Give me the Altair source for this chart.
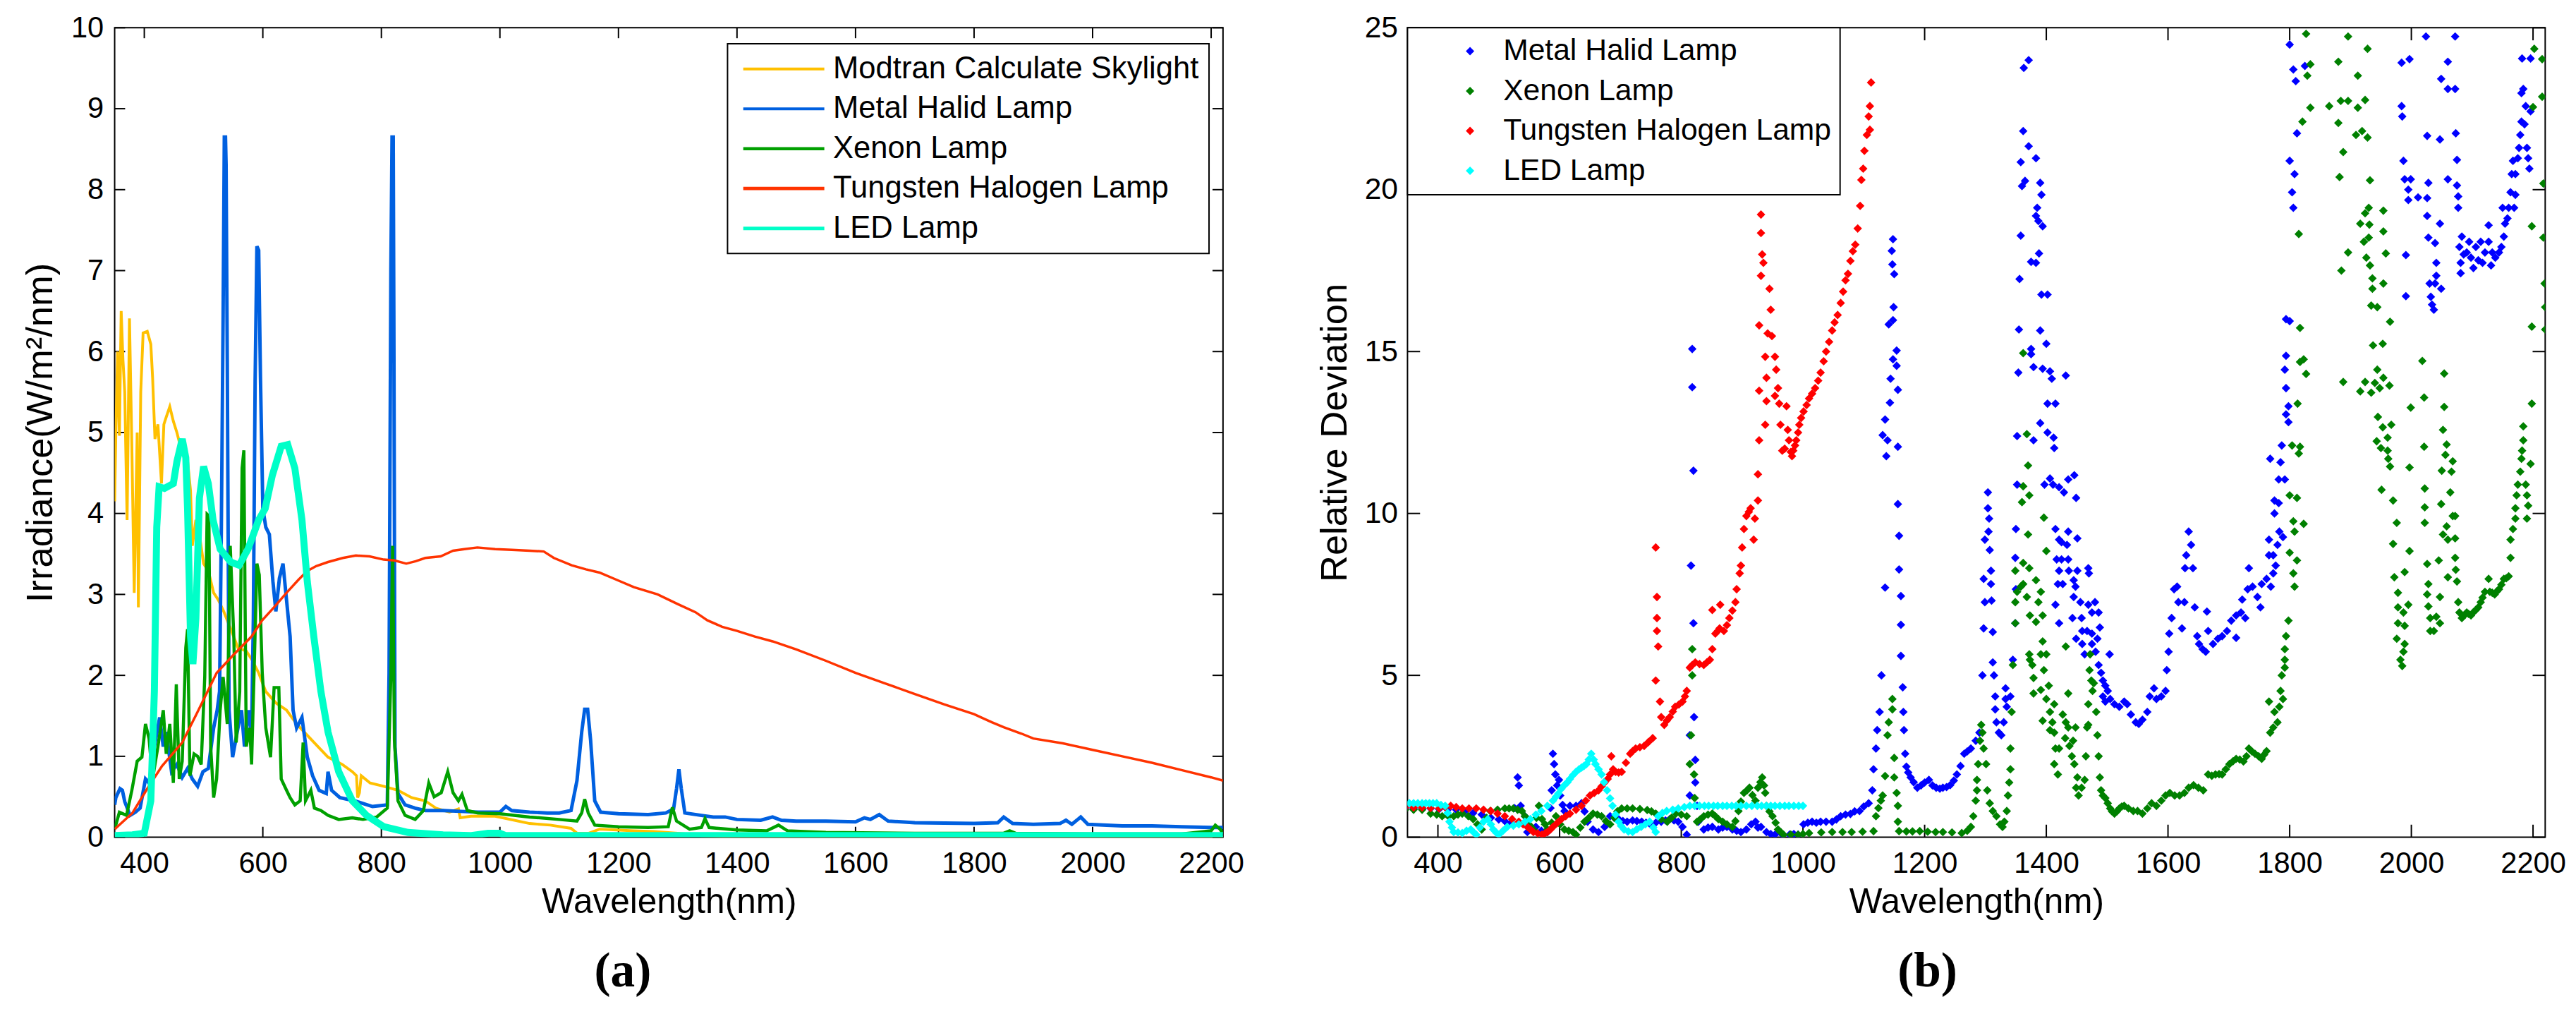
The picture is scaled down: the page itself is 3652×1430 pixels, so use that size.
import altair as alt
import pandas as pd

# ---------------- tick values ----------------
NM_TICKS = [400, 600, 800, 1000, 1200, 1400, 1600, 1800, 2000, 2200]
IRR_TICKS = [0, 1, 2, 3, 4, 5, 6, 7, 8, 9, 10]
DEV_TICKS = [0, 5, 10, 15, 20, 25]

# ---------------- panel (a): irradiance spectra ----------------
NAMES_A = ["Modtran Calculate Skylight", "Metal Halid Lamp", "Xenon Lamp",
           "Tungsten Halogen Lamp", "LED Lamp"]
COLORS_A = ["#FFC000", "#0060E0", "#00A000", "#FF3300", "#00FFC8"]
WIDTHS_A = [4, 5, 4.5, 3.5, 10]

MODTRAN = [(350,4.15),(352,5.0),(355,6.0),(358,4.96),(361,6.5),(364,5.9),(367,5.5),(371,3.92),(375,6.41),
           (379,4.83),(383,3.02),(388,5.0),(390,2.84),(394,5.5),(398,6.23),(405,6.25),(411,6.09),(414,5.68),
           (418,4.92),(423,5.1),(429,4.37),(433,5.1),(437,5.19),(443,5.32),(449,5.14),(455,5.0),(461,4.83),
           (467,4.74),(473,4.65),(478,4.28),(481,3.6),(487,3.92),(493,3.74),(500,3.38),(508,3.29),(517,3.02),
           (525,2.93),(534,2.79),(546,2.57),(558,2.34),(572,2.3),(581,2.2),(593,2.03),(605,1.8),(622,1.66),
           (640,1.57),(657,1.4),(675,1.26),(693,1.12),(710,0.99),(734,0.9),(751,0.81),(758,0.76),(760,0.49),
           (763,0.55),(766,0.76),(781,0.67),(804,0.63),(828,0.58),(851,0.49),(874,0.45),(892,0.36),(915,0.31),
           (930,0.35),(933,0.24),(951,0.26),(992,0.26),(1050,0.17),(1085,0.15),(1120,0.11),(1130,0.05),
           (1150,0.05),(1168,0.1),(1226,0.08),(1260,0.07),(1300,0.05),(1340,0.02),(1400,0.01),(1600,0.01),
           (1800,0.01),(2000,0.0),(2220,0.0)]

METAL_A = [(350,0.40),(352,0.49),(359,0.6),(363,0.58),(367,0.44),(376,0.27),(385,0.31),(393,0.36),(402,0.72),
           (408,0.67),(417,1.12),(426,1.48),(432,1.12),(437,1.3),(446,0.81),(455,0.9),(464,0.74),(473,0.85),
           (481,0.72),(490,0.63),(499,0.81),(508,0.85),(517,1.35),(523,1.57),(527,1.8),(530,3.83),(533,6.45),
           (535,8.65),(537,8.65),(538,8.3),(540,5.87),(543,1.57),(549,0.99),(558,1.35),(564,1.57),(569,1.12),
           (576,1.57),(581,1.26),(584,2.7),(587,5.64),(590,7.3),(593,7.25),(596,5.68),(600,4.06),(605,3.83),
           (611,3.74),(617,3.16),(622,2.79),(628,3.2),(634,3.38),(640,2.93),(646,2.48),(651,1.57),(657,1.35),
           (666,1.48),(675,0.99),(684,0.76),(695,0.58),(707,0.54),(710,0.81),(716,0.58),(730,0.49),(755,0.45),
           (785,0.38),(810,0.40),(813,2.03),(816,7.0),(818,8.65),(820,8.65),(821,6.5),(823,1.12),(828,0.54),
           (840,0.40),(857,0.36),(874,0.33),(904,0.33),(933,0.32),(963,0.31),(1000,0.31),(1010,0.38),
           (1020,0.33),(1050,0.31),(1080,0.3),(1100,0.3),(1120,0.33),(1130,0.7),(1138,1.3),(1143,1.58),
           (1148,1.58),(1153,1.2),(1160,0.45),(1170,0.31),(1200,0.29),(1250,0.28),(1280,0.3),(1293,0.35),
           (1298,0.6),(1302,0.84),(1306,0.6),(1312,0.3),(1340,0.27),(1360,0.25),(1380,0.25),(1400,0.22),
           (1440,0.21),(1460,0.25),(1475,0.21),(1500,0.2),(1550,0.2),(1600,0.19),(1615,0.24),(1625,0.22),
           (1640,0.28),(1655,0.2),(1700,0.18),(1800,0.17),(1840,0.18),(1850,0.25),(1865,0.17),(1900,0.16),
           (1945,0.17),(1955,0.21),(1965,0.16),(1980,0.25),(1992,0.16),(2050,0.14),(2100,0.14),(2150,0.13),
           (2200,0.12),(2220,0.12)]

XENON_A = [(350,0.1),(358,0.31),(370,0.27),(379,0.58),(388,0.94),(396,0.99),(402,1.4),(408,1.22),(414,0.72),
           (423,1.12),(432,1.57),(437,1.03),(443,1.4),(449,0.67),(454,1.89),(459,0.72),(464,0.94),(470,2.34),
           (473,2.57),(477,0.76),(484,1.03),(490,1.0),(496,0.9),(502,1.98),(506,3.99),(509,3.97),(512,1.12),
           (517,0.49),(522,0.72),(528,1.57),(533,1.98),(540,1.4),(545,3.6),(551,2.48),(555,1.17),(561,1.8),
           (565,4.56),(568,4.78),(572,1.12),(578,1.35),(581,0.9),(586,2.25),(590,3.38),(594,3.24),(599,2.03),
           (605,1.35),(613,0.99),(619,1.85),(627,1.85),(631,0.72),(640,0.58),(646,0.49),(654,0.40),(663,0.45),
           (668,1.17),(672,0.45),(681,0.58),(687,0.36),(698,0.33),(710,0.27),(728,0.22),(751,0.24),(769,0.22),
           (792,0.25),(810,0.36),(816,2.0),(819,3.6),(822,1.2),(828,0.45),(840,0.27),(857,0.22),(871,0.33),
           (880,0.67),(889,0.5),(901,0.55),(912,0.81),(921,0.55),(930,0.45),(936,0.53),(945,0.33),(963,0.3),
           (1000,0.29),(1050,0.25),(1100,0.22),(1130,0.2),(1138,0.3),(1143,0.47),(1149,0.3),(1160,0.15),
           (1200,0.13),(1250,0.12),(1284,0.13),(1291,0.37),(1298,0.2),(1320,0.1),(1340,0.12),(1346,0.23),
           (1353,0.12),(1400,0.09),(1450,0.08),(1470,0.15),(1485,0.08),(1550,0.06),(1700,0.05),(1850,0.05),
           (1860,0.08),(1870,0.05),(2000,0.04),(2150,0.04),(2200,0.08),(2207,0.15),(2215,0.1),(2220,0.05)]

TUNGSTEN_A = [(350,0.1),(380,0.3),(405,0.6),(430,0.88),(464,1.17),(490,1.55),(522,2.03),(550,2.25),(581,2.48),
              (599,2.68),(620,2.85),(640,3.02),(660,3.18),(675,3.29),(690,3.35),(710,3.4),(735,3.45),(757,3.48),
              (780,3.47),(804,3.43),(822,3.42),(842,3.38),(858,3.41),(874,3.45),(900,3.47),(921,3.54),(940,3.56),
              (962,3.58),(992,3.56),(1020,3.55),(1050,3.54),(1074,3.53),(1091,3.45),(1121,3.36),(1145,3.31),
              (1168,3.27),(1197,3.18),(1226,3.09),(1266,3.0),(1300,2.88),(1330,2.78),(1350,2.68),(1375,2.6),
              (1400,2.55),(1430,2.48),(1460,2.42),(1500,2.32),(1550,2.18),(1600,2.03),(1650,1.9),(1700,1.77),
              (1750,1.64),(1800,1.52),(1830,1.42),(1850,1.36),(1880,1.28),(1900,1.22),(1950,1.16),(2000,1.08),
              (2050,1.0),(2100,0.92),(2150,0.83),(2200,0.74),(2220,0.7)]

LED_A = [(350,0.02),(380,0.03),(400,0.05),(411,0.45),(417,1.8),(421,3.83),(425,4.33),(434,4.31),(449,4.37),
         (455,4.64),(464,4.92),(470,4.69),(473,4.06),(478,2.48),(482,2.14),(487,2.7),(493,4.19),(500,4.58),
         (508,4.37),(516,3.92),(528,3.56),(546,3.40),(560,3.36),(575,3.56),(593,3.92),(604,4.06),(616,4.47),
         (631,4.83),(642,4.85),(654,4.56),(666,3.92),(675,3.16),(686,2.48),(698,1.80),(710,1.3),(728,0.81),
         (751,0.45),(775,0.27),(804,0.13),(845,0.06),(904,0.03),(950,0.02),(980,0.05),(1000,0.05),(1010,0.02),
         (1200,0.02),(1500,0.02),(2220,0.02)]

SERIES_A = [MODTRAN, METAL_A, XENON_A, TUNGSTEN_A, LED_A]

# ---------------- panel (b): relative deviation ----------------
NAMES_B = ["Metal Halid Lamp", "Xenon Lamp", "Tungsten Halogen Lamp", "LED Lamp"]
COLORS_B = ["#0000FF", "#008000", "#FF0000", "#00FFFF"]

METAL_B = [(346,0.89),(360,0.89),(374,0.89),(388,0.89),(402,0.87),(416,0.85),(430,0.85),(444,0.8),(458,0.75),
           (472,0.7),(487,0.6),(500,0.55),(510,0.5),(520,0.45),(526,0.9),(531,1.85),(533,1.6),(536,0.97),
           (543,0.65),(547,0.16),(552,0.3),(561,0.32),(570,0.2),(580,0.16),(585,0.9),(587,1.45),(589,2.58),
           (591,2.26),(593,1.94),(596,1.6),(599,1.77),(601,1.29),(605,1.0),(608,0.81),(617,0.97),(627,0.97),
           (636,1.05),(641,0.8),(646,0.48),(655,0.24),(664,0.16),(674,0.32),(683,0.65),(690,0.6),(697,0.56),
           (704,0.5),(711,0.48),(720,0.52),(727,0.5),(735,0.48),(742,0.45),(749,0.4),(758,0.45),(767,0.48),
           (774,0.52),(781,0.56),(788,0.52),(795,0.48),(802,0.32),(809,0.08),(814,1.29),(816,8.39),(818,15.08),
           (818,13.9),(820,11.32),(820,6.61),(821,3.71),(814,3.15),(823,2.39),(823,1.69),(826,0.97),(828,0.48),
           (837,0.24),(844,0.3),(851,0.32),(861,0.24),(868,0.3),(875,0.32),(884,0.24),(891,0.2),(898,0.16),
           (907,0.24),(915,0.4),(922,0.48),(926,0.3),(931,0.32),(940,0.16),(947,0.1),(954,0.08),(966,0.08),
           (978,0.08),(985,0.1),(992,0.08),(1001,0.4),(1008,0.45),(1015,0.48),(1022,0.45),(1029,0.48),
           (1038,0.48),(1048,0.48),(1055,0.55),(1062,0.65),(1070,0.7),(1078,0.72),(1085,0.8),(1093,0.81),
           (1100,0.95),(1108,1.05),(1114,1.45),(1116,2.1),(1120,2.74),(1122,3.31),(1126,3.87),(1129,5.0),
           (1135,7.71),(1131,12.42),(1135,12.9),(1137,11.77),(1139,12.26),(1143,13.42),(1144,14.16),(1141,15.84),
           (1148,15.97),(1149,16.37),(1148,14.76),(1154,15.03),(1154,14.56),(1156,13.82),(1150,17.39),
           (1147,17.69),(1146,18.11),(1148,18.47),(1156,12.06),(1156,10.29),(1158,9.31),(1158,8.27),(1161,7.45),
           (1161,6.56),(1161,5.6),(1164,4.63),(1165,3.87),(1166,3.31),(1168,2.58),(1170,2.18),(1173,2.0),
           (1177,1.85),(1182,1.7),(1188,1.53),(1194,1.6),(1200,1.69),(1207,1.77),(1213,1.6),(1219,1.53),
           (1225,1.5),(1230,1.53),(1236,1.55),(1242,1.61),(1248,1.75),(1253,1.94),(1259,2.2),(1265,2.58),
           (1270,2.65),(1276,2.74),(1284,2.98),(1290,3.23),(1295,5.0),(1297,6.45),(1299,7.26),(1297,7.98),
           (1299,9.19),(1304,10.65),(1304,10.16),(1306,9.84),(1305,9.44),(1307,8.87),(1309,8.23),(1309,7.82),
           (1310,7.31),(1312,6.34),(1312,5.4),(1314,5.0),(1316,4.35),(1316,3.95),(1318,3.55),(1322,3.23),
           (1326,3.15),(1330,3.55),(1333,4.6),(1333,4.27),(1335,4.03),(1341,4.35),(1345,5.48),(1349,6.61),
           (1350,7.66),(1349,8.63),(1350,9.52),(1352,10.89),(1352,12.39),(1354,14.35),(1355,15.68),(1356,17.24),
           (1358,18.58),(1360,20.11),(1358,20.85),(1362,21.81),(1363,23.76),(1371,24.0),(1365,20.27),
           (1371,21.34),(1383,20.97),(1390,20.21),(1392,19.84),(1385,19.44),(1383,19.19),(1387,19.03),
           (1394,18.87),(1388,18.03),(1375,17.77),(1383,17.74),(1392,16.76),(1402,16.76),(1390,15.65),
           (1400,15.24),(1375,15.08),(1375,14.92),(1379,14.52),(1394,14.47),(1406,14.39),(1409,14.16),
           (1402,13.39),(1415,13.39),(1390,12.79),(1379,12.26),(1402,12.5),(1412,12.34),(1413,12.02),
           (1432,14.26),(1397,10.89),(1406,11.08),(1411,10.89),(1421,10.81),(1429,10.65),(1436,11.05),
           (1446,11.18),(1449,10.48),(1415,9.52),(1421,9.19),(1425,9.11),(1434,9.03),(1436,9.44),(1451,9.23),
           (1417,8.58),(1425,8.58),(1436,8.58),(1421,8.23),(1437,8.23),(1451,8.23),(1419,7.82),(1427,7.82),
           (1445,7.94),(1448,7.74),(1469,8.31),(1470,8.15),(1415,7.18),(1445,7.42),(1456,7.26),(1469,7.18),
           (1480,7.26),(1443,6.77),(1458,6.77),(1475,6.94),(1486,6.94),(1421,6.61),(1449,6.13),(1459,6.37),
           (1467,6.37),(1475,6.29),(1488,6.48),(1459,5.97),(1475,5.97),(1484,6.13),(1504,5.65),(1463,5.65),
           (1481,5.73),(1486,5.32),(1490,5.08),(1493,4.84),(1497,4.68),(1501,4.52),(1493,4.35),(1497,4.19),
           (1505,4.27),(1512,4.11),(1520,4.03),(1528,4.19),(1533,4.11),(1539,3.79),(1547,3.55),(1552,3.5),
           (1558,3.63),(1566,3.87),(1570,4.35),(1577,4.6),(1581,4.27),(1589,4.35),(1596,4.52),(1598,5.16),
           (1601,5.73),(1602,6.29),(1606,6.77),(1610,7.66),(1615,7.74),(1617,7.26),(1623,6.45),(1627,7.26),
           (1628,8.31),(1630,8.71),(1634,9.44),(1638,9.03),(1641,8.31),(1644,7.1),(1648,6.21),(1651,5.97),
           (1657,5.81),(1662,5.73),(1664,6.97),(1666,6.37),(1674,5.97),(1682,6.13),(1689,6.21),(1697,6.37),
           (1704,6.69),(1712,6.85),(1712,6.16),(1720,6.94),(1727,6.77),(1733,8.31),(1722,7.34),(1731,7.66),
           (1739,7.74),(1747,7.42),(1752,7.1),(1754,7.82),(1762,7.98),(1769,7.74),(1773,8.15),(1766,8.71),
           (1773,8.71),(1777,8.39),(1780,9.03),(1783,9.44),(1789,9.27),(1766,9.19),(1775,10.0),(1775,10.4),
           (1782,10.32),(1782,11.05),(1792,11.05),(1768,11.69),(1785,11.58),(1787,12.1),(1798,12.82),
           (1794,13.06),(1798,13.31),(1794,13.87),(1792,14.44),(1794,14.87),(1794,16.0),(1800,15.94),
           (1806,19.44),(1804,19.92),(1808,20.48),(1800,20.89),(1812,21.74),(1810,23.35),(1806,23.71),
           (1825,23.82),(1800,24.48),(1984,23.92),(1997,24.03),(2024,24.73),(2072,24.73),(2060,23.95),
           (2049,23.42),(2060,23.11),(2072,23.11),(1984,22.58),(1985,22.26),(2026,21.66),(2047,21.55),
           (2073,21.74),(2075,20.92),(1987,20.89),(1989,20.32),(1999,20.32),(1995,20.0),(1995,19.68),
           (2011,19.76),(2028,20.21),(2026,19.74),(2026,19.19),(2060,20.32),(2075,20.13),(2077,19.79),
           (2077,19.44),(2047,18.95),(2028,18.52),(2039,18.35),(1991,17.98),(2041,17.74),(2041,17.34),
           (2039,17.1),(2030,17.1),(2049,16.94),(1991,16.71),(2032,16.69),(2034,16.45),(2037,16.29),
           (2079,18.23),(2083,18.55),(2081,17.74),(2081,17.42),(2086,18.0),(2091,18.06),(2095,18.39),
           (2098,17.9),(2102,17.58),(2106,18.23),(2110,17.82),(2114,18.39),(2117,17.74),(2121,18.06),
           (2127,18.39),(2131,17.66),(2133,18.06),(2127,18.9),(2138,17.9),(2144,18.06),(2148,18.23),
           (2152,18.55),(2154,18.95),(2150,19.44),(2158,19.11),(2160,19.44),(2163,19.92),(2169,19.44),
           (2171,19.84),(2165,20.48),(2171,20.48),(2167,20.89),(2175,20.97),(2177,21.29),(2179,21.69),
           (2186,22.02),(2181,22.1),(2190,21.29),(2192,20.97),(2194,20.65),(2188,22.58),(2181,22.98),
           (2184,23.11),(2196,22.42),(2182,24.05),(2196,24.05)]

XENON_B = [(346,0.85),(360,0.85),(374,0.85),(388,0.73),(398,0.7),(407,0.65),(417,0.65),(426,0.65),(433,0.7),
           (440,0.73),(450,0.65),(458,0.56),(465,0.4),(472,0.24),(480,0.6),(486,0.81),(498,0.85),(510,0.89),
           (517,0.89),(524,0.89),(531,0.85),(538,0.81),(543,0.65),(547,0.48),(552,0.35),(557,0.24),(562,0.6),
           (566,0.97),(571,0.56),(576,0.4),(580,0.24),(587,0.45),(594,0.65),(601,0.4),(608,0.24),(615,0.2),
           (622,0.16),(627,0.08),(634,0.3),(641,0.48),(648,0.6),(655,0.73),(662,0.7),(669,0.65),(676,0.5),
           (683,0.4),(690,0.6),(695,0.8),(702,0.89),(711,0.89),(720,0.89),(732,0.87),(744,0.84),(751,0.8),
           (758,0.73),(767,0.56),(777,0.48),(784,0.6),(791,0.73),(800,0.7),(809,0.65),(814,2.26),(816,3.15),
           (818,5.0),(818,5.81),(821,1.94),(822,1.21),(826,0.48),(831,0.55),(837,0.65),(844,0.7),(851,0.73),
           (856,0.65),(861,0.56),(868,0.48),(875,0.4),(884,0.32),(889,0.5),(894,0.81),(898,1.1),(903,1.37),
           (908,1.45),(912,1.53),(917,1.3),(922,1.13),(926,1.53),(930,1.7),(933,1.85),(936,1.6),(938,1.37),
           (940,0.97),(945,0.8),(950,0.65),(955,0.45),(959,0.24),(964,0.15),(968,0.08),(980,0.08),(992,0.08),
           (1000,0.1),(1010,0.13),(1030,0.15),(1048,0.16),(1065,0.16),(1080,0.16),(1098,0.17),(1116,0.19),
           (1120,0.65),(1124,0.9),(1128,1.13),(1131,1.29),(1135,1.89),(1139,3.15),(1141,3.55),(1147,4.27),
           (1147,3.95),(1150,2.45),(1150,1.85),(1154,1.37),(1156,0.97),(1156,0.48),(1158,0.19),(1170,0.18),
           (1180,0.18),(1192,0.19),(1205,0.17),(1218,0.16),(1230,0.16),(1245,0.15),(1261,0.13),(1270,0.2),
           (1276,0.32),(1280,0.65),(1284,1.13),(1286,1.45),(1286,1.77),(1288,2.26),(1291,2.98),(1293,3.47),
           (1295,3.23),(1297,2.74),(1301,2.26),(1303,1.45),(1307,1.05),(1312,0.81),(1318,0.65),(1324,0.4),
           (1328,0.32),(1331,0.48),(1335,0.81),(1337,1.29),(1339,1.69),(1341,2.1),(1341,2.74),(1343,3.87),
           (1345,5.32),(1349,6.61),(1349,7.26),(1349,8.23),(1352,7.58),(1358,7.74),(1362,7.82),(1368,7.42),
           (1362,8.47),(1372,8.31),(1370,9.35),(1360,10.35),(1362,10.84),(1372,10.56),(1370,11.48),
           (1368,12.45),(1362,14.95),(1373,6.85),(1383,6.65),(1372,5.65),(1377,5.32),(1379,4.92),(1373,5.48),
           (1379,4.44),(1383,7.94),(1387,7.26),(1394,6.85),(1391,7.58),(1391,5.65),(1394,6.05),(1396,5.16),
           (1400,5.65),(1391,4.55),(1396,9.87),(1400,8.84),(1404,4.68),(1400,4.27),(1406,3.87),(1394,3.6),
           (1410,3.55),(1413,4.11),(1406,3.31),(1413,3.23),(1415,2.74),(1421,2.74),(1413,2.26),(1419,1.94),
           (1427,3.79),(1432,3.55),(1436,3.39),(1431,3.06),(1436,4.44),(1432,5.89),(1438,2.82),(1444,2.98),
           (1442,2.5),(1446,2.26),(1448,3.39),(1451,1.85),(1449,1.53),(1458,1.53),(1453,1.29),(1463,1.77),
           (1465,2.5),(1469,4.11),(1469,3.47),(1467,3.39),(1471,5.16),(1472,5.65),(1474,4.84),(1476,4.52),
           (1478,4.76),(1482,3.87),(1484,3.15),(1486,2.5),(1488,1.85),(1490,1.45),(1493,1.29),(1497,1.21),
           (1501,1.05),(1505,0.89),(1508,0.8),(1512,0.73),(1516,0.8),(1520,0.89),(1524,0.95),(1528,0.97),
           (1535,0.89),(1543,0.81),(1550,0.81),(1558,0.73),(1566,0.89),(1573,1.05),(1581,0.97),(1589,1.13),
           (1596,1.29),(1603,1.37),(1611,1.29),(1619,1.29),(1627,1.37),(1634,1.53),(1642,1.61),(1650,1.53),
           (1658,1.45),(1666,1.94),(1672,1.9),(1678,1.94),(1684,1.95),(1689,1.94),(1695,2.1),(1701,2.26),
           (1707,2.35),(1712,2.42),(1718,2.4),(1724,2.34),(1729,2.5),(1733,2.74),(1738,2.65),(1743,2.58),
           (1749,2.5),(1754,2.42),(1758,2.55),(1762,2.66),(1766,4.19),(1768,3.23),(1773,3.39),(1775,3.87),
           (1780,3.55),(1783,4.03),(1785,4.52),(1789,4.27),(1787,5.0),(1792,5.24),(1792,5.81),(1794,6.21),
           (1798,6.69),(1792,5.48),(1800,8.79),(1806,8.15),(1808,7.74),(1812,8.55),(1808,9.44),(1806,9.76),
           (1812,10.48),(1823,9.68),(1800,10.56),(1804,12.1),(1815,11.85),(1817,12.06),(1813,13.39),
           (1827,14.31),(1823,14.76),(1817,14.68),(1817,15.73),(1815,18.63),(1821,22.1),(1834,22.53),
           (1829,23.52),(1834,23.87),(1827,24.81),(1865,22.58),(1880,23.95),(1896,24.73),(1928,24.35),
           (1912,23.52),(1884,22.74),(1896,22.74),(1912,22.53),(1924,22.77),(1880,22.06),(1888,21.16),
           (1909,21.69),(1919,21.81),(1928,21.61),(1882,20.39),(1932,20.29),(1885,17.5),(1896,18.06),
           (1916,18.95),(1924,19.27),(1930,19.44),(1931,18.92),(1922,18.39),(1930,18.52),(1954,19.35),
           (1954,18.71),(1958,18.03),(1926,17.9),(1932,17.66),(1936,17.26),(1936,16.94),(1954,17.1),
           (1934,16.42),(1944,16.37),(1965,15.92),(1937,15.19),(1953,15.24),(1888,14.06),(1916,13.77),
           (1924,14.06),(1934,13.73),(1944,14.44),(1940,14.03),(1948,13.87),(1954,14.19),(1964,13.95),
           (1945,12.98),(1953,12.66),(1967,12.74),(1961,12.34),(1943,12.23),(1950,12.02),(1961,11.94),
           (1962,11.69),(1965,11.45),(1951,10.73),(1970,10.4),(1976,9.71),(1970,9.06),(1972,8.03),(1978,7.55),
           (1978,7.1),(1987,6.94),(1995,7.18),(1978,6.61),(1989,6.53),(1976,6.13),(1989,5.97),(1987,5.73),
           (1982,5.48),(1985,5.29),(1997,8.84),(1989,8.19),(1997,11.42),(1999,13.27),(2018,14.71),(2021,13.58),
           (2021,12.06),(2022,10.77),(2022,10.19),(2022,9.71),(2026,8.44),(2028,7.82),(2026,7.5),(2028,7.13),
           (2031,6.77),(2031,6.37),(2037,6.37),(2041,6.81),(2047,7.42),(2047,6.61),(2045,8.55),(2049,10.29),
           (2052,9.35),(2058,9.6),(2060,9.19),(2060,8.03),(2072,9.23),(2072,9.92),(2068,9.92),(2064,10.65),
           (2066,11.29),(2068,11.61),(2050,11.32),(2056,11.81),(2058,12.13),(2052,12.58),(2054,13.29),
           (2054,14.32),(2072,8.63),(2073,8.26),(2075,7.9),(2077,7.26),(2079,6.94),(2083,6.77),(2087,6.85),
           (2091,6.94),(2094,6.9),(2098,6.85),(2102,6.95),(2106,7.02),(2110,7.1),(2114,7.26),(2117,7.4),
           (2121,7.58),(2127,7.98),(2129,7.58),(2133,7.55),(2137,7.5),(2141,7.6),(2144,7.66),(2148,7.8),
           (2152,7.98),(2156,8.0),(2160,8.06),(2163,8.63),(2163,9.19),(2167,9.52),(2171,9.84),(2171,10.16),
           (2173,10.56),(2175,10.89),(2179,11.29),(2181,11.69),(2182,11.94),(2184,12.26),(2184,12.69),
           (2190,9.84),(2192,10.24),(2190,10.56),(2188,10.89),(2196,11.53),(2198,13.39),(2198,15.77),
           (2198,18.87),(2200,22.55),(2202,24.35),(2215,24.03),(2215,22.87),(2217,20.19),(2217,18.52),
           (2219,17.1),(2220,16.37),(2220,15.68)]

TUNGSTEN_B = [(346,0.92),(360,0.92),(374,0.92),(388,0.9),(402,0.89),(412,0.93),(421,0.97),(430,0.93),(440,0.89),
              (451,0.89),(463,0.89),(475,0.85),(487,0.81),(498,0.73),(510,0.65),(522,0.56),(533,0.48),(540,0.4),
              (547,0.32),(552,0.24),(557,0.16),(564,0.12),(571,0.08),(576,0.12),(580,0.16),(585,0.24),(589,0.32),
              (596,0.44),(603,0.56),(610,0.65),(617,0.73),(627,0.85),(636,0.97),(643,1.13),(650,1.29),(657,1.37),
              (664,1.45),(669,1.57),(674,1.69),(679,1.8),(683,1.94),(685,2.5),(688,2.1),(692,2.02),(697,2.0),
              (702,2.02),(709,2.3),(716,2.58),(720,2.66),(725,2.74),(732,2.78),(739,2.82),(746,2.94),(753,3.06),
              (758,8.95),(760,7.42),(760,6.77),(760,6.37),(762,5.89),(758,4.84),(765,4.19),(767,3.71),(772,3.47),
              (776,3.6),(781,3.71),(786,3.88),(790,4.03),(796,4.1),(802,4.19),(806,4.35),(809,4.52),(814,5.24),
              (818,5.32),(823,5.4),(830,5.35),(837,5.32),(842,5.4),(847,5.48),(851,5.81),(856,6.29),(860,6.37),
              (863,6.45),(851,7.02),(864,7.18),(870,6.37),(875,6.55),(879,6.77),(884,7.0),(889,7.26),(891,7.66),
              (896,8.15),(898,8.39),(900,8.95),(903,9.52),(907,9.92),(911,10.05),(914,10.16),(921,9.84),(919,9.19),
              (926,10.4),(926,11.21),(928,12.26),(928,13.79),(928,15.81),(931,17.34),(931,18.66),(931,19.23),
              (933,18.0),(935,17.74),(938,14.84),(938,12.74),(940,14.19),(940,13.47),(945,16.94),(947,16.29),
              (942,15.56),(949,15.48),(954,14.84),(956,14.44),(954,13.63),(959,13.87),(961,13.39),(963,12.74),
              (966,11.94),(970,12.0),(973,13.31),(975,12.58),(977,12.26),(980,11.9),(982,11.77),(984,11.94),
              (987,12.1),(989,12.26),(992,12.5),(994,12.74),(997,12.95),(1001,13.15),(1006,13.35),(1010,13.55),
              (1015,13.7),(1020,13.87),(1025,14.1),(1029,14.35),(1034,14.7),(1038,15.0),(1043,15.3),(1048,15.65),
              (1052,15.9),(1057,16.13),(1062,16.5),(1066,16.85),(1070,17.2),(1074,17.4),(1078,17.8),(1082,18.1),
              (1086,18.3),(1090,18.8),(1094,19.5),(1096,20.3),(1099,20.65),(1101,21.2),(1105,21.69),(1108,22.26),
              (1110,21.85),(1110,22.58),(1112,23.31)]

LED_B = [(346,1.05),(353,1.05),(360,1.05),(367,1.05),(374,1.05),(380,1.05),(386,1.05),(392,1.05),(398,1.05),
         (405,1.0),(412,0.97),(416,0.75),(419,0.48),(423,0.3),(426,0.16),(433,0.15),(440,0.13),(447,0.2),
         (454,0.24),(459,0.15),(463,0.08),(469,0.3),(475,0.48),(482,0.56),(487,0.4),(491,0.24),(496,0.14),
         (500,0.08),(507,0.2),(514,0.32),(524,0.36),(533,0.4),(543,0.48),(552,0.56),(561,0.7),(570,0.81),
         (580,0.97),(589,1.13),(594,1.25),(598,1.35),(603,1.5),(608,1.61),(613,1.7),(617,1.8),(622,1.92),
         (627,2.02),(632,2.1),(636,2.15),(640,2.2),(644,2.26),(648,2.4),(652,2.58),(656,2.4),(659,2.26),
         (664,2.1),(669,1.94),(673,1.7),(678,1.45),(683,1.2),(687,0.97),(692,0.7),(697,0.48),(701,0.35),
         (706,0.24),(713,0.18),(720,0.16),(727,0.25),(734,0.32),(741,0.4),(748,0.48),(754,0.3),(758,0.16),
         (762,0.65),(769,0.75),(776,0.81),(786,0.85),(795,0.89),(805,0.93),(814,0.97),(822,0.97),(830,0.97),
         (838,0.97),(845,0.97),(853,0.97),(860,0.97),(868,0.97),(875,0.97),(883,0.97),(890,0.97),(898,0.97),
         (907,0.97),(916,0.97),(925,0.97),(932,0.97),(940,0.97),(947,0.97),(954,0.97),(962,0.97),(970,0.97),
         (977,0.97),(985,0.97),(993,0.97),(1000,0.97)]

SERIES_B = [METAL_B, XENON_B, TUNGSTEN_B, LED_B]

# ---------------- layout constants ----------------
WA, HA = 1586, 1158
WB, HB = 1628, 1158
TICK_A = 15
TICK_B = 18
FONT = "Liberation Sans"


def frame(pairs, name):
    return pd.DataFrame({"nm": [p[0] for p in pairs], "val": [p[1] for p in pairs], "series": name})


x_scale = alt.Scale(domain=[350, 2220], nice=False, zero=False)
ya_scale = alt.Scale(domain=[0, 10], nice=False, zero=False)
yb_scale = alt.Scale(domain=[0, 25], nice=False, zero=False)

x_axis = alt.Axis(values=NM_TICKS, format="d", title="Wavelength(nm)", domain=False, ticks=False, grid=False,
                  labelFontSize=42, labelPadding=17, titleFontSize=50, titlePadding=10,
                  labelFlush=False, labelOverlap=False)
ya_axis = alt.Axis(values=IRR_TICKS, format="d", title="Irradiance(W/m²/nm)", domain=False, ticks=False,
                   grid=False, labelFontSize=42, labelPadding=16, titleFontSize=53, titlePadding=16,
                   labelOverlap=False)
yb_axis = alt.Axis(values=DEV_TICKS, format="d", title="Relative Deviation", domain=False, ticks=False,
                   grid=False, labelFontSize=43, labelPadding=14, titleFontSize=53, titlePadding=15,
                   labelOverlap=False)

# ---------------- panel (a) ----------------
leg_a = alt.Legend(title=None, orient="none", legendX=877, legendY=23, direction="vertical",
                   symbolType="stroke", symbolSize=13456, clipHeight=44, labelFontSize=44, labelFont=FONT,
                   labelOffset=10, padding=14, rowPadding=13, strokeColor="black", fillColor="white",
                   symbolOffset=6, labelLimit=0)
color_a = alt.Color("series:N", scale=alt.Scale(domain=NAMES_A, range=COLORS_A), legend=leg_a)
width_a = alt.StrokeWidth("series:O", scale=alt.Scale(domain=NAMES_A, range=WIDTHS_A), legend=leg_a)

xt = pd.DataFrame({"t": NM_TICKS})
yta = pd.DataFrame({"t": IRR_TICKS})
ytb = pd.DataFrame({"t": DEV_TICKS})


def ticks(ydf, yscale, yaxis, W, H, L):
    xr = alt.X("t:Q", scale=x_scale, axis=x_axis)
    yr = alt.Y("t:Q", scale=yscale, axis=yaxis)
    base_x = alt.Chart(xt).mark_rule(color="black", strokeWidth=2)
    base_y = alt.Chart(ydf).mark_rule(color="black", strokeWidth=2)
    return [
        base_x.encode(x=xr, y=alt.value(H), y2=alt.value(H - L)),
        base_x.encode(x=xr, y=alt.value(0), y2=alt.value(L)),
        base_y.encode(y=yr, x=alt.value(0), x2=alt.value(L)),
        base_y.encode(y=yr, x=alt.value(W), x2=alt.value(W - L)),
    ]


layers_a = ticks(yta, ya_scale, ya_axis, WA, HA, TICK_A)
for name, pairs, w in zip(NAMES_A, SERIES_A, WIDTHS_A):
    layers_a.append(
        alt.Chart(frame(pairs, name)).mark_line(clip=True, strokeJoin="miter", strokeWidth=w).encode(
            x=alt.X("nm:Q", scale=x_scale, axis=x_axis),
            y=alt.Y("val:Q", scale=ya_scale, axis=ya_axis),
            color=color_a,
            strokeWidth=width_a,
        )
    )

chart_a = alt.layer(*layers_a).properties(
    width=WA, height=HA,
    title=alt.TitleParams("(a)", orient="bottom", anchor="middle", font="Liberation Serif", fontSize=70,
                          fontWeight="bold", color="black", dx=-66, offset=40),
)

# ---------------- panel (b) ----------------
leg_b = alt.Legend(title=None, orient="none", legendX=0, legendY=0, direction="vertical",
                   symbolType="diamond", symbolSize=144, labelFontSize=43, labelFont=FONT,
                   labelOffset=26, padding=12, rowPadding=13, strokeColor="black", fillColor="white",
                   symbolOffset=56, labelLimit=0)
color_b = alt.Color("series:N", scale=alt.Scale(domain=NAMES_B, range=COLORS_B), legend=leg_b)

layers_b = ticks(ytb, yb_scale, yb_axis, WB, HB, TICK_B)
for name, pairs in zip(NAMES_B, SERIES_B):
    layers_b.append(
        alt.Chart(frame(pairs, name)).mark_point(shape="diamond", filled=True, size=150, opacity=1,
                                                 clip=True).encode(
            x=alt.X("nm:Q", scale=x_scale, axis=x_axis),
            y=alt.Y("val:Q", scale=yb_scale, axis=yb_axis),
            color=color_b,
        )
    )

chart_b = alt.layer(*layers_b).properties(
    width=WB, height=HB,
    title=alt.TitleParams("(b)", orient="bottom", anchor="middle", font="Liberation Serif", fontSize=70,
                          fontWeight="bold", color="black", dx=-70, offset=40),
)

chart = (
    alt.hconcat(chart_a, chart_b, spacing=102)
    .resolve_scale(color="independent", strokeWidth="independent", x="independent", y="independent")
    .resolve_legend(color="independent", strokeWidth="independent")
    .properties(padding={"left": 23, "top": 3, "right": 5, "bottom": 5}, background="white")
    .configure(font=FONT)
    .configure_view(stroke="black", strokeWidth=2)
    .configure_axis(labelColor="black", titleColor="black", labelFont=FONT, titleFont=FONT,
                    titleFontWeight="normal")
    .configure_legend(strokeWidth=2)
)

chart.save("out.html", embed_options={"renderer": "svg", "actions": False})
